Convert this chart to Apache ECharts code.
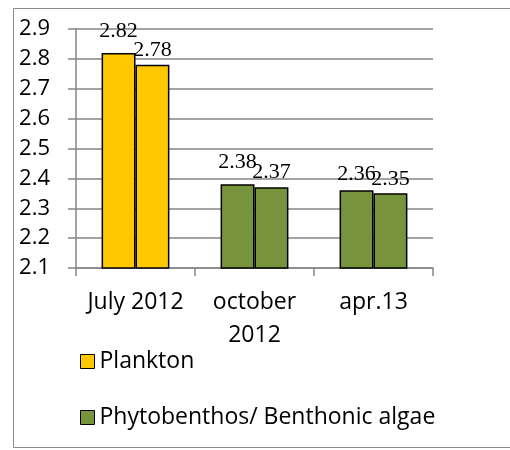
<!DOCTYPE html>
<html>
<head>
<meta charset="utf-8">
<script src="https://cdn.jsdelivr.net/npm/echarts@6/dist/echarts.min.js"></script>
<style>
  html, body { margin: 0; padding: 0; background: #fff; }
  #chart { width: 510px; height: 450px; }
</style>
</head>
<body>
<div id="chart"></div>
<script>
// Periods along the x axis
const categories = ['July 2012', 'october\n2012', 'apr.13'];
// Left and right bar of each period
const firstBar = [2.82, 2.38, 2.36];
const secondBar = [2.78, 2.37, 2.35];
// Which group each period belongs to (0 = Plankton, 1 = Phytobenthos)
const periodGroup = [0, 1, 1];
const groupNames = ['Plankton', 'Phytobenthos/ Benthonic algae'];
const yTicks = [2.1, 2.2, 2.3, 2.4, 2.5, 2.6, 2.7, 2.8, 2.9];

const groupColors = ['#FFC800', '#77933C'];
const serif = '"Liberation Serif", "DejaVu Serif", serif';
const sans = '"Open Sans", Lato, sans-serif';

// extra lift for labels that would otherwise collide
const liftFirst = [11, 11, 5];
const liftSecond = [4, 4, 3];

function barData(values, lift) {
  return values.map((v, i) => ({
    value: v,
    itemStyle: { color: groupColors[periodGroup[i]] },
    label: { distance: lift[i] }
  }));
}

const barCommon = {
  type: 'bar',
  barGap: '0%',
  barCategoryGap: '43%',
  itemStyle: { borderColor: '#000', borderWidth: 1.5 },
  label: {
    show: true,
    position: 'top',
    color: '#000',
    fontFamily: serif,
    fontSize: 22,
    formatter: p => p.value.toFixed(2)
  },
  silent: true
};

const chart = echarts.init(document.getElementById('chart'));
chart.setOption({
  animation: false,
  graphic: [{
    type: 'rect',
    shape: { x: 13.5, y: 8.5, width: 520, height: 439 },
    style: { fill: 'none', stroke: '#8c8c8c', lineWidth: 1 },
    z: -1
  }],
  grid: { left: 76, right: 77, top: 29, bottom: 182 },
  legend: {
    orient: 'vertical',
    left: 75,
    top: 345,
    itemWidth: 14,
    itemHeight: 14,
    itemGap: 33,
    textStyle: { fontFamily: sans, fontSize: 23, color: '#000' },
    data: groupNames.map((n, i) => ({
      name: n,
      icon: 'rect',
      itemStyle: { color: groupColors[i], borderColor: '#000', borderWidth: 1 }
    }))
  },
  xAxis: {
    type: 'category',
    data: categories,
    boundaryGap: true,
    axisLine: { lineStyle: { color: '#868686', width: 1.5 } },
    axisTick: { show: true, length: 8, lineStyle: { color: '#868686', width: 1.5 } },
    axisLabel: {
      interval: 0,
      hideOverlap: false,
      color: '#000',
      fontFamily: sans,
      fontSize: 23,
      lineHeight: 33,
      margin: 18
    }
  },
  yAxis: {
    type: 'value',
    min: yTicks[0],
    max: yTicks[yTicks.length - 1],
    interval: 0.1,
    axisLine: { show: true, lineStyle: { color: '#868686', width: 1.5 } },
    axisTick: { show: true, length: 8, lineStyle: { color: '#868686', width: 1.5 } },
    splitLine: { lineStyle: { color: '#868686', width: 1.5 } },
    axisLabel: {
      color: '#000',
      fontFamily: sans,
      fontSize: 22,
      margin: 26,
      formatter: v => v.toFixed(1)
    }
  },
  series: [
    Object.assign({}, barCommon, { name: 'left', data: barData(firstBar, liftFirst) }),
    Object.assign({}, barCommon, { name: 'right', data: barData(secondBar, liftSecond) }),
    // empty series that carry the legend entries
    { type: 'line', name: groupNames[0], data: [], itemStyle: { color: groupColors[0] } },
    { type: 'line', name: groupNames[1], data: [], itemStyle: { color: groupColors[1] } }
  ]
});
</script>
</body>
</html>
